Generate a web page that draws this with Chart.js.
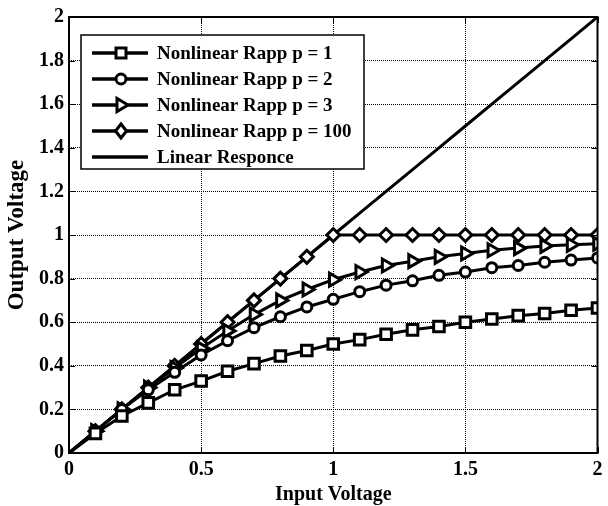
<!DOCTYPE html>
<html>
<head>
<meta charset="utf-8">
<script src="https://cdn.jsdelivr.net/npm/chart.js@4.4.1/dist/chart.umd.min.js"></script>
<style>
  html, body { margin: 0; padding: 0; background: #fff; }
  #wrap { width: 608px; height: 506px; }
</style>
</head>
<body>
<div id="wrap"><canvas id="rapp-chart" width="608" height="506"></canvas></div>
<script>
// Data
const inputVoltage = [0, 0.1, 0.2, 0.3, 0.4, 0.5, 0.6, 0.7, 0.8, 0.9, 1.0, 1.1, 1.2, 1.3, 1.4, 1.5, 1.6, 1.7, 1.8, 1.9, 2.0];
const rappP1 = [0, 0.09, 0.17, 0.23, 0.29, 0.33, 0.375, 0.41, 0.445, 0.47, 0.50, 0.52, 0.545, 0.565, 0.58, 0.60, 0.615, 0.63, 0.64, 0.655, 0.665];
const rappP2 = [0, 0.10, 0.20, 0.29, 0.37, 0.45, 0.515, 0.575, 0.625, 0.67, 0.705, 0.74, 0.77, 0.79, 0.815, 0.83, 0.85, 0.86, 0.875, 0.885, 0.895];
const rappP3 = [0, 0.10, 0.20, 0.30, 0.39, 0.48, 0.56, 0.635, 0.70, 0.75, 0.795, 0.83, 0.86, 0.88, 0.90, 0.915, 0.93, 0.94, 0.95, 0.955, 0.96];
const rappP100 = [0, 0.10, 0.20, 0.30, 0.40, 0.50, 0.60, 0.70, 0.80, 0.90, 1.0, 1.0, 1.0, 1.0, 1.0, 1.0, 1.0, 1.0, 1.0, 1.0, 1.0];
const linearResponse = [0, 0.1, 0.2, 0.3, 0.4, 0.5, 0.6, 0.7, 0.8, 0.9, 1.0, 1.1, 1.2, 1.3, 1.4, 1.5, 1.6, 1.7, 1.8, 1.9, 2.0];

const seriesLabels = ['Nonlinear Rapp p = 1', 'Nonlinear Rapp p = 2', 'Nonlinear Rapp p = 3', 'Nonlinear Rapp p = 100', 'Linear Responce'];
const xTickLabels = ['0', '0.5', '1', '1.5', '2'];
const yTickLabels = ['0', '0.2', '0.4', '0.6', '0.8', '1', '1.2', '1.4', '1.6', '1.8', '2'];

const FONT_FAMILY = "'Liberation Serif', 'Times New Roman', serif";

function toPoints(ys) {
    return inputVoltage.map((x, i) => ({ x: x, y: ys[i] }));
}

// no marker at the origin
function markerRadius(r) {
    return ctx => ctx.dataIndex === 0 ? 0 : r;
}

function makeSeries(label, ys, style, radius, rotation) {
    return {
        label: label,
        data: toPoints(ys),
        borderColor: '#000',
        borderWidth: 3,
        backgroundColor: '#fff',
        pointStyle: style,
        pointRadius: style ? markerRadius(radius) : 0,
        pointRotation: rotation || 0,
        pointBorderWidth: 3,
        pointBorderColor: '#000',
        pointBackgroundColor: '#fff',
        tension: 0,
        fill: false
    };
}

// small marker drawer for the legend
function drawMarker(ctx, style, x, y) {
    ctx.beginPath();
    if (style === 'rect') {
        ctx.rect(x - 5, y - 5, 10, 10);
    } else if (style === 'circle') {
        ctx.arc(x, y, 5, 0, Math.PI * 2);
    } else if (style === 'triangle') {
        ctx.moveTo(x + 7, y);
        ctx.lineTo(x - 4, y - 6.5);
        ctx.lineTo(x - 4, y + 6.5);
        ctx.closePath();
    } else if (style === 'rectRot') {
        ctx.moveTo(x, y - 7);
        ctx.lineTo(x + 5.5, y);
        ctx.lineTo(x, y + 7);
        ctx.lineTo(x - 5.5, y);
        ctx.closePath();
    } else {
        return;
    }
    ctx.fillStyle = '#fff';
    ctx.fill();
    ctx.lineWidth = 3;
    ctx.strokeStyle = '#000';
    ctx.stroke();
}

// box frame, inward ticks and the boxed legend
const framePlugin = {
    id: 'frame',
    afterDraw(chart) {
        const { ctx, chartArea: a, scales } = chart;
        ctx.save();
        ctx.strokeStyle = '#000';

        ctx.lineWidth = 1;
        ctx.beginPath();
        scales.x.ticks.forEach(t => {
            const px = Math.round(scales.x.getPixelForValue(t.value)) + 0.5;
            ctx.moveTo(px, a.bottom); ctx.lineTo(px, a.bottom - 6);
            ctx.moveTo(px, a.top); ctx.lineTo(px, a.top + 6);
        });
        scales.y.ticks.forEach(t => {
            const py = Math.round(scales.y.getPixelForValue(t.value)) + 0.5;
            ctx.moveTo(a.left, py); ctx.lineTo(a.left + 6, py);
            ctx.moveTo(a.right, py); ctx.lineTo(a.right - 6, py);
        });
        ctx.stroke();

        ctx.lineWidth = 2;
        ctx.strokeRect(a.left, a.top, a.right - a.left, a.bottom - a.top);

        // legend
        const boxLeft = a.left + 12, boxTop = a.top + 18;
        const boxWidth = 283, rowHeight = 26;
        const boxHeight = 134;
        ctx.fillStyle = '#fff';
        ctx.fillRect(boxLeft, boxTop, boxWidth, boxHeight);
        ctx.lineWidth = 1.5;
        ctx.strokeRect(boxLeft, boxTop, boxWidth, boxHeight);

        ctx.font = 'bold 19px ' + FONT_FAMILY;
        ctx.textBaseline = 'middle';
        ctx.textAlign = 'left';
        chart.data.datasets.forEach((ds, i) => {
            const y = boxTop + 18 + i * rowHeight;
            ctx.beginPath();
            ctx.moveTo(boxLeft + 11, y);
            ctx.lineTo(boxLeft + 67, y);
            ctx.lineWidth = 3.5;
            ctx.strokeStyle = '#000';
            ctx.stroke();
            drawMarker(ctx, ds.pointStyle, boxLeft + 40, y);
            ctx.fillStyle = '#000';
            ctx.fillText(ds.label, boxLeft + 76, y + 1);
        });
        ctx.restore();
    }
};

document.addEventListener('DOMContentLoaded', function() {
    const ctx = document.getElementById('rapp-chart').getContext('2d');
    const tickFont = { family: FONT_FAMILY, size: 20, weight: 'bold' };

    new Chart(ctx, {
        type: 'line',
        data: {
            datasets: [
                makeSeries(seriesLabels[0], rappP1, 'rect', 7.5),
                makeSeries(seriesLabels[1], rappP2, 'circle', 5),
                makeSeries(seriesLabels[2], rappP3, 'triangle', 7.5, 90),
                makeSeries(seriesLabels[3], rappP100, 'rectRot', 6.5),
                makeSeries(seriesLabels[4], linearResponse, false, 0)
            ]
        },
        options: {
            responsive: false,
            animation: false,
            events: [],
            layout: { padding: { top: 17, right: 4, bottom: 0, left: 0 } },
            plugins: {
                legend: { display: false },
                tooltip: { enabled: false }
            },
            scales: {
                x: {
                    type: 'linear',
                    min: 0,
                    max: 2,
                    afterFit: function(s) {
                        s.height = 53;
                        s.paddingLeft = 0;
                        s.paddingRight = 0;
                    },
                    grid: { color: '#000', lineWidth: 1, drawTicks: false },
                    border: { display: false, dash: [1, 1] },
                    ticks: {
                        stepSize: 0.5,
                        padding: 5,
                        maxRotation: 0,
                        autoSkip: false,
                        color: '#000',
                        font: tickFont,
                        callback: function(value, index) {
                            return xTickLabels[index];
                        }
                    },
                    title: {
                        display: true,
                        text: 'Input Voltage',
                        color: '#000',
                        font: { family: FONT_FAMILY, size: 20, weight: 'bold', lineHeight: 1.1 },
                        padding: { top: 0, bottom: 0 }
                    }
                },
                y: {
                    type: 'linear',
                    min: 0,
                    max: 2,
                    afterFit: function(s) {
                        s.width = 69;
                        s.paddingTop = 0;
                        s.paddingBottom = 0;
                    },
                    grid: { color: '#000', lineWidth: 1, drawTicks: false },
                    border: { display: false, dash: [1, 1] },
                    ticks: {
                        stepSize: 0.2,
                        padding: 5,
                        autoSkip: false,
                        color: '#000',
                        font: tickFont,
                        callback: function(value, index) {
                            return yTickLabels[index];
                        }
                    },
                    title: {
                        display: true,
                        text: 'Output Voltage',
                        color: '#000',
                        font: { family: FONT_FAMILY, size: 23, weight: 'bold' },
                        padding: { top: 3, bottom: 0 }
                    }
                }
            }
        },
        plugins: [framePlugin]
    });
});
</script>
</body>
</html>
